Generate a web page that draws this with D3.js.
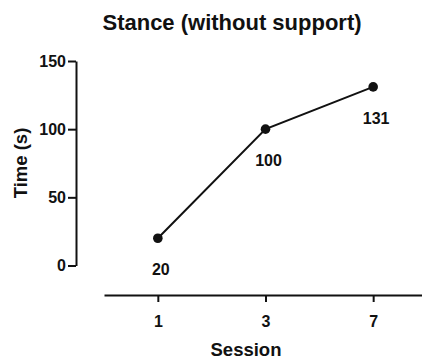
<!DOCTYPE html>
<html>
<head>
<meta charset="utf-8">
<script src="https://cdn.jsdelivr.net/npm/d3@7"></script>
<style>
  body { margin: 0; background: #fff; }
  svg text { font-family: "Liberation Sans", Arial, sans-serif; font-weight: bold; fill: #111; }
</style>
</head>
<body>
<script>
const width = 422;
const height = 360;

// data
const sessions = ['1', '3', '7'];
const times = [20, 100, 131];
const yTicks = [0, 50, 100, 150];

const svg = d3.select('body').append('svg')
    .attr('width', width)
    .attr('height', height);

const x = d3.scalePoint()
    .domain(sessions)
    .range([104, 427])
    .padding(0.5);

const y = d3.scaleLinear()
    .domain([0, 150])
    .range([265.5, 61]);

// y axis
const yAxis = svg.append('g')
    .attr('transform', 'translate(76,0)')
    .call(d3.axisLeft(y).tickValues(yTicks).tickSize(8).tickSizeOuter(0).tickPadding(2));
yAxis.select('.domain').attr('stroke', '#111').attr('stroke-width', 2);
yAxis.selectAll('.tick line').attr('stroke', '#111').attr('stroke-width', 2);
yAxis.selectAll('.tick text').style('font-size', '16px').attr('fill', '#111');
yAxis.attr('font-family', null).attr('font-size', null);

// x axis
const xAxis = svg.append('g')
    .attr('transform', 'translate(0,295)')
    .call(d3.axisBottom(x).tickSize(7).tickSizeOuter(0).tickPadding(14));
xAxis.select('.domain').attr('stroke', '#111').attr('stroke-width', 2);
xAxis.selectAll('.tick line').attr('stroke', '#111').attr('stroke-width', 2);
xAxis.selectAll('.tick text').style('font-size', '16px').attr('fill', '#111');
xAxis.attr('font-family', null).attr('font-size', null);

const pts = sessions.map((s, i) => ({s: s, v: times[i]}));

svg.append('path')
    .datum(pts)
    .attr('fill', 'none')
    .attr('stroke', '#111')
    .attr('stroke-width', 2)
    .attr('d', d3.line().x(d => x(d.s)).y(d => y(d.v)));

svg.append('g')
    .selectAll('circle')
    .data(pts)
    .enter().append('circle')
    .attr('cx', d => x(d.s))
    .attr('cy', d => y(d.v))
    .attr('r', 4.8)
    .attr('fill', '#111');

svg.append('g')
    .selectAll('text')
    .data(pts)
    .enter().append('text')
    .attr('x', d => x(d.s) + 3)
    .attr('y', d => y(d.v) + 37)
    .attr('text-anchor', 'middle')
    .style('font-size', '16px')
    .text(d => d.v);

// titles
svg.append('text')
    .attr('x', 232)
    .attr('y', 30)
    .attr('text-anchor', 'middle')
    .style('font-size', '22px')
    .text('Stance (without support)');

svg.append('text')
    .attr('x', 246)
    .attr('y', 356)
    .attr('text-anchor', 'middle')
    .style('font-size', '18.5px')
    .text('Session');

svg.append('text')
    .attr('transform', 'translate(27,163) rotate(-90)')
    .attr('text-anchor', 'middle')
    .style('font-size', '18.5px')
    .text('Time (s)');
</script>
</body>
</html>
